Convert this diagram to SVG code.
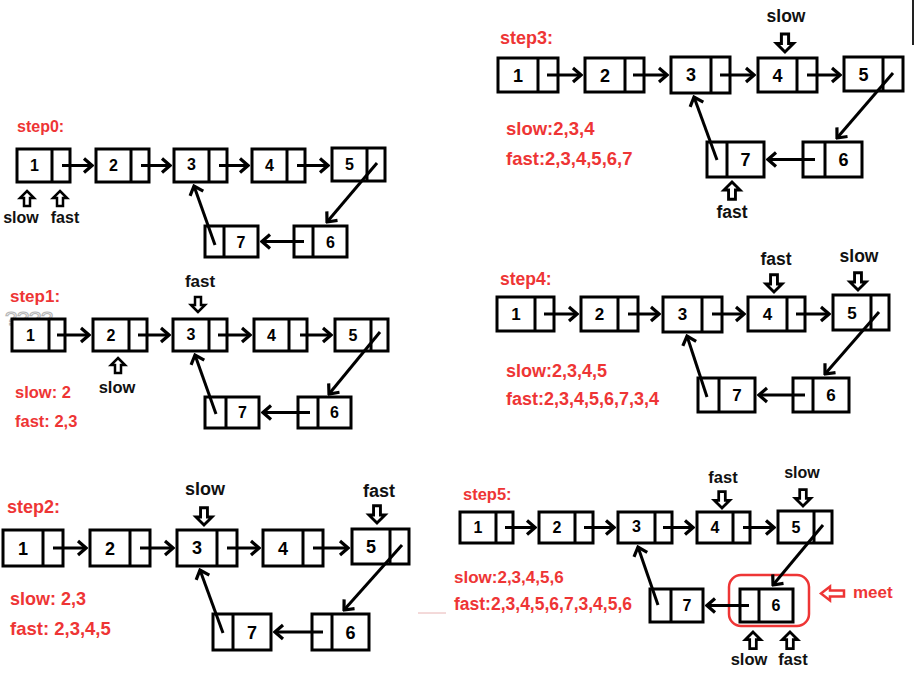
<svg xmlns="http://www.w3.org/2000/svg" xmlns:xlink="http://www.w3.org/1999/xlink" width="916" height="674" viewBox="0 0 916 674">
<style>
.box{fill:#fff;stroke:#000;stroke-width:3}
.dv{stroke:#000;stroke-width:3}
.num{font-family:"Liberation Sans",Arial,sans-serif;font-weight:bold;text-anchor:middle;fill:#000}
.cn{fill:none;stroke:#000;stroke-width:3;marker-end:url(#ah)}
.lb{font-family:"Liberation Sans",Arial,sans-serif;font-weight:bold;fill:#111;text-anchor:middle}
.rd{font-family:"Liberation Sans",Arial,sans-serif;font-weight:bold;fill:#ee3535}
.ptr{fill:#fff;stroke:#000;stroke-width:2.5;stroke-linejoin:miter}
.s0 .num,.s1 .num,.s5 .num{font-size:16px}
.s2 .num,.s3 .num{font-size:18px}
.s4 .num{font-size:17px}
</style>
<defs>
<marker id="ah" viewBox="-11 -9 13 18" refX="0" refY="0" markerWidth="13" markerHeight="18" markerUnits="userSpaceOnUse" orient="auto">
<path d="M-8,-7 L0,0 L-8,7" fill="none" stroke="#000" stroke-width="3.2"/>
</marker>
<path id="pu" d="M0,0 L7,7 L3,7 L3,15 L-3,15 L-3,7 L-7,7 Z"/>
</defs>
<rect width="916" height="674" fill="#fff"/>
<line x1="913" y1="0" x2="913" y2="45" stroke="#222" stroke-width="2"/>
<line x1="418" y1="613" x2="446" y2="613" stroke="#e8b4b4" stroke-width="1"/>
<text x="5" y="325" font-family="Liberation Sans,Arial,sans-serif" font-size="19" fill="none" stroke="#b5b5b5" stroke-width="1" textLength="48" lengthAdjust="spacingAndGlyphs">????</text>

<!-- STEP 0 -->
<g id="step0" class="s0">
<g id="s0-n1"><rect class="box" x="17" y="149" width="53" height="33"/><line class="dv" x1="52" y1="149" x2="52" y2="182"/><text class="num" x="34.5" y="171.3">1</text></g>
<g id="s0-n2"><rect class="box" x="96" y="149" width="53" height="33"/><line class="dv" x1="131" y1="149" x2="131" y2="182"/><text class="num" x="113.5" y="171.3">2</text></g>
<g id="s0-n3"><rect class="box" x="174" y="149" width="53" height="33"/><line class="dv" x1="209" y1="149" x2="209" y2="182"/><text class="num" x="191.5" y="170.3">3</text></g>
<g id="s0-n4"><rect class="box" x="252" y="149" width="53" height="33"/><line class="dv" x1="287" y1="149" x2="287" y2="182"/><text class="num" x="269.5" y="171.3">4</text></g>
<g id="s0-n5"><rect class="box" x="332" y="148" width="53" height="33"/><line class="dv" x1="367" y1="148" x2="367" y2="181"/><text class="num" x="349.5" y="170.3">5</text></g>
<g id="s0-n7"><rect class="box" x="205" y="226" width="53" height="31"/><line class="dv" x1="224" y1="226" x2="224" y2="257"/><text class="num" x="241" y="247.5">7</text></g>
<g id="s0-n6"><rect class="box" x="294" y="226" width="53" height="31"/><line class="dv" x1="313" y1="226" x2="313" y2="257"/><text class="num" x="330.5" y="247.5">6</text></g>
</g>

<!-- STEP 1 -->
<g id="step1" class="s1">
<g id="s1-n1"><rect class="box" x="12" y="319" width="53" height="32"/><line class="dv" x1="49" y1="319" x2="49" y2="351"/><text class="num" x="30.5" y="340.8">1</text></g>
<g id="s1-n2"><rect class="box" x="93" y="319" width="54" height="32"/><line class="dv" x1="129" y1="319" x2="129" y2="351"/><text class="num" x="111" y="340.8">2</text></g>
<g id="s1-n3"><rect class="box" x="173" y="319" width="54" height="32"/><line class="dv" x1="209" y1="319" x2="209" y2="351"/><text class="num" x="191" y="340">3</text></g>
<g id="s1-n4"><rect class="box" x="254" y="319" width="53" height="32"/><line class="dv" x1="289" y1="319" x2="289" y2="351"/><text class="num" x="271.5" y="340.8">4</text></g>
<g id="s1-n5"><rect class="box" x="335" y="319" width="53" height="32"/><line class="dv" x1="371" y1="319" x2="371" y2="351"/><text class="num" x="353" y="340.8">5</text></g>
<g id="s1-n7"><rect class="box" x="205" y="397" width="54" height="31"/><line class="dv" x1="226" y1="397" x2="226" y2="428"/><text class="num" x="242.5" y="418.3">7</text></g>
<g id="s1-n6"><rect class="box" x="298" y="397" width="53" height="31"/><line class="dv" x1="318" y1="397" x2="318" y2="428"/><text class="num" x="334.5" y="418.3">6</text></g>
</g>

<!-- STEP 2 -->
<g id="step2" class="s2">
<g id="s2-n1"><rect class="box" x="3" y="530" width="60" height="36"/><line class="dv" x1="43" y1="530" x2="43" y2="566"/><text class="num" x="23" y="554.5">1</text></g>
<g id="s2-n2"><rect class="box" x="90" y="530" width="60" height="36"/><line class="dv" x1="130" y1="530" x2="130" y2="566"/><text class="num" x="110" y="554.5">2</text></g>
<g id="s2-n3"><rect class="box" x="177" y="530" width="60" height="36"/><line class="dv" x1="217" y1="530" x2="217" y2="566"/><text class="num" x="197" y="553.5">3</text></g>
<g id="s2-n4"><rect class="box" x="263" y="530" width="60" height="36"/><line class="dv" x1="303" y1="530" x2="303" y2="566"/><text class="num" x="283" y="554.5">4</text></g>
<g id="s2-n5"><rect class="box" x="352" y="529" width="57" height="35"/><line class="dv" x1="390" y1="529" x2="390" y2="564"/><text class="num" x="371" y="553">5</text></g>
<g id="s2-n7"><rect class="box" x="213" y="614" width="58" height="36"/><line class="dv" x1="233" y1="614" x2="233" y2="650"/><text class="num" x="252" y="638.5">7</text></g>
<g id="s2-n6"><rect class="box" x="312" y="614" width="57" height="36"/><line class="dv" x1="332" y1="614" x2="332" y2="650"/><text class="num" x="350.5" y="638.5">6</text></g>
</g>

<!-- STEP 3 -->
<g id="step3" class="s3">
<g id="s3-n1"><rect class="box" x="498" y="58" width="60" height="34"/><line class="dv" x1="538" y1="58" x2="538" y2="92"/><text class="num" x="518" y="81.5">1</text></g>
<g id="s3-n2"><rect class="box" x="585" y="58" width="59" height="34"/><line class="dv" x1="625" y1="58" x2="625" y2="92"/><text class="num" x="605" y="81.5">2</text></g>
<g id="s3-n3"><rect class="box" x="671" y="57" width="59" height="36"/><line class="dv" x1="711" y1="57" x2="711" y2="93"/><text class="num" x="691" y="80.5">3</text></g>
<g id="s3-n4"><rect class="box" x="758" y="58" width="59" height="34"/><line class="dv" x1="797" y1="58" x2="797" y2="92"/><text class="num" x="777.5" y="81.5">4</text></g>
<g id="s3-n5"><rect class="box" x="844" y="57" width="59" height="34"/><line class="dv" x1="883" y1="57" x2="883" y2="91"/><text class="num" x="863.5" y="80.5">5</text></g>
<g id="s3-n7"><rect class="box" x="707" y="142" width="57" height="35"/><line class="dv" x1="727" y1="142" x2="727" y2="177"/><text class="num" x="745.5" y="166">7</text></g>
<g id="s3-n6"><rect class="box" x="803" y="142" width="59" height="35"/><line class="dv" x1="825" y1="142" x2="825" y2="177"/><text class="num" x="843.5" y="166">6</text></g>
</g>

<!-- STEP 4 -->
<g id="step4" class="s4">
<g id="s4-n1"><rect class="box" x="497" y="297" width="57" height="34"/><line class="dv" x1="535" y1="297" x2="535" y2="331"/><text class="num" x="516" y="320">1</text></g>
<g id="s4-n2"><rect class="box" x="581" y="297" width="57" height="34"/><line class="dv" x1="618" y1="297" x2="618" y2="331"/><text class="num" x="599.5" y="320">2</text></g>
<g id="s4-n3"><rect class="box" x="663" y="297" width="59" height="35"/><line class="dv" x1="702" y1="297" x2="702" y2="332"/><text class="num" x="682.5" y="319.5">3</text></g>
<g id="s4-n4"><rect class="box" x="748" y="297" width="57" height="34"/><line class="dv" x1="787" y1="297" x2="787" y2="331"/><text class="num" x="767.5" y="320">4</text></g>
<g id="s4-n5"><rect class="box" x="833" y="295" width="56" height="35"/><line class="dv" x1="871" y1="295" x2="871" y2="330"/><text class="num" x="852" y="318.6">5</text></g>
<g id="s4-n7"><rect class="box" x="698" y="378" width="57" height="34"/><line class="dv" x1="719" y1="378" x2="719" y2="412"/><text class="num" x="737" y="401">7</text></g>
<g id="s4-n6"><rect class="box" x="793" y="378" width="56" height="34"/><line class="dv" x1="813" y1="378" x2="813" y2="412"/><text class="num" x="831" y="401">6</text></g>
</g>

<!-- STEP 5 -->
<g id="step5" class="s5">
<g id="s5-n1"><rect class="box" x="460" y="512" width="53" height="31"/><line class="dv" x1="496" y1="512" x2="496" y2="543"/><text class="num" x="478" y="533.3">1</text></g>
<g id="s5-n2"><rect class="box" x="539" y="512" width="54" height="31"/><line class="dv" x1="575" y1="512" x2="575" y2="543"/><text class="num" x="557" y="533.3">2</text></g>
<g id="s5-n3"><rect class="box" x="618" y="512" width="54" height="31"/><line class="dv" x1="655" y1="512" x2="655" y2="543"/><text class="num" x="636.5" y="532.3">3</text></g>
<g id="s5-n4"><rect class="box" x="697" y="512" width="53" height="31"/><line class="dv" x1="733" y1="512" x2="733" y2="543"/><text class="num" x="715" y="533.3">4</text></g>
<g id="s5-n5"><rect class="box" x="778" y="511" width="54" height="32"/><line class="dv" x1="814" y1="511" x2="814" y2="543"/><text class="num" x="796" y="532.8">5</text></g>
<g id="s5-n7"><rect class="box" x="650" y="589" width="53" height="33"/><line class="dv" x1="671" y1="589" x2="671" y2="622"/><text class="num" x="687" y="611.3">7</text></g>
<g id="s5-n6"><rect class="box" x="740" y="589" width="53" height="33"/><line class="dv" x1="759" y1="589" x2="759" y2="622"/><text class="num" x="776" y="611.3">6</text></g>
<rect id="s5-meet-box" x="729" y="575" width="80" height="51" rx="12" fill="none" stroke="#ee3535" stroke-width="2.5"/>
</g>

<!-- CONNECTORS -->
<g id="connectors">
<path class="cn" d="M62,165.5 H92"/>
<path class="cn" d="M141,165.5 H170"/>
<path class="cn" d="M219,165.5 H248"/>
<path class="cn" d="M297,165.5 H328"/>
<path class="cn" d="M377,163 L327,222"/>
<path class="cn" d="M304,241.5 H262"/>
<path class="cn" d="M215,245 L194,186"/>

<path class="cn" d="M57,335 H89"/>
<path class="cn" d="M138,335 H169"/>
<path class="cn" d="M218,335 H250"/>
<path class="cn" d="M300,335 H331"/>
<path class="cn" d="M380,332 L329,394"/>
<path class="cn" d="M310,412.5 H263"/>
<path class="cn" d="M216,414 L195,355"/>

<path class="cn" d="M53,548 H86"/>
<path class="cn" d="M140,548 H173"/>
<path class="cn" d="M227,548 H259"/>
<path class="cn" d="M313,548 H348"/>
<path class="cn" d="M402,545 L344,610"/>
<path class="cn" d="M323,632 H275"/>
<path class="cn" d="M223,633 L200,570"/>

<path class="cn" d="M547,75 H581"/>
<path class="cn" d="M633,75 H667"/>
<path class="cn" d="M720,75 H754"/>
<path class="cn" d="M807,75 H840"/>
<path class="cn" d="M893,73 L837,138"/>
<path class="cn" d="M815,159.5 H768"/>
<path class="cn" d="M717,160 L694,97"/>

<path class="cn" d="M544,314 H577"/>
<path class="cn" d="M628,314 H659"/>
<path class="cn" d="M712,314 H744"/>
<path class="cn" d="M796,314 H829"/>
<path class="cn" d="M879,312 L825,374"/>
<path class="cn" d="M805,395 H759"/>
<path class="cn" d="M707,397 L687,336"/>

<path class="cn" d="M505,527.5 H535"/>
<path class="cn" d="M584,527.5 H614"/>
<path class="cn" d="M663,527.5 H693"/>
<path class="cn" d="M743,527.5 H774"/>
<path class="cn" d="M823,525 L773,585"/>
<path class="cn" d="M749,605.5 H707"/>
<path class="cn" d="M658,605 L638,547"/>
</g>

<!-- POINTER ARROWS -->
<g id="pointers">
<use href="#pu" class="ptr" transform="translate(27,191)"/>
<use href="#pu" class="ptr" transform="translate(60,191)"/>
<use href="#pu" class="ptr" transform="translate(198,312) rotate(180)"/>
<use href="#pu" class="ptr" transform="translate(118,358)"/>
<use href="#pu" class="ptr" transform="translate(204,525) rotate(180) scale(1.15)"/>
<use href="#pu" class="ptr" transform="translate(377,523) rotate(180) scale(1.15)"/>
<use href="#pu" class="ptr" transform="translate(785,52) rotate(180) scale(1.2)"/>
<use href="#pu" class="ptr" transform="translate(732,182) scale(1.15)"/>
<use href="#pu" class="ptr" transform="translate(774,292) rotate(180) scale(1.15)"/>
<use href="#pu" class="ptr" transform="translate(858,290) rotate(180) scale(1.15)"/>
<use href="#pu" class="ptr" transform="translate(722,508) rotate(180) scale(1.1)"/>
<use href="#pu" class="ptr" transform="translate(803,506) rotate(180) scale(1.1)"/>
<use href="#pu" class="ptr" transform="translate(753,632) scale(1.1)"/>
<use href="#pu" class="ptr" transform="translate(790,632) scale(1.1)"/>
<path d="M821,593.5 L830,586.5 L830,590.5 L844,590.5 L844,596.5 L830,596.5 L830,600.5 Z" fill="#fff" stroke="#ee3535" stroke-width="2.5"/>
</g>

<!-- LABELS -->
<g id="labels">
<text class="lb" x="21" y="223" font-size="16">slow</text>
<text class="lb" x="65" y="223" font-size="16">fast</text>
<text class="lb" x="200" y="287" font-size="17">fast</text>
<text class="lb" x="117" y="393" font-size="16.5">slow</text>
<text class="lb" x="205" y="495" font-size="18">slow</text>
<text class="lb" x="379" y="497" font-size="18">fast</text>
<text class="lb" x="786" y="22" font-size="17.5">slow</text>
<text class="lb" x="732" y="218" font-size="17.5">fast</text>
<text class="lb" x="776" y="265" font-size="17.5">fast</text>
<text class="lb" x="859" y="262" font-size="17.5">slow</text>
<text class="lb" x="723" y="483" font-size="16.5">fast</text>
<text class="lb" x="802" y="478" font-size="16">slow</text>
<text class="lb" x="749" y="665" font-size="16.5">slow</text>
<text class="lb" x="793" y="665" font-size="16.5">fast</text>

<text class="rd" x="17" y="132" font-size="16">step0:</text>
<text class="rd" x="10" y="302" font-size="17">step1:</text>
<text class="rd" x="15" y="398" font-size="16.5">slow: 2</text>
<text class="rd" x="15" y="427" font-size="16.5">fast: 2,3</text>
<text class="rd" x="7" y="513" font-size="18">step2:</text>
<text class="rd" x="10" y="605" font-size="18">slow: 2,3</text>
<text class="rd" x="10" y="635" font-size="18.5">fast: 2,3,4,5</text>
<text class="rd" x="500" y="44" font-size="18">step3:</text>
<text class="rd" x="506" y="135" font-size="18.5">slow:2,3,4</text>
<text class="rd" x="506" y="165" font-size="18.5">fast:2,3,4,5,6,7</text>
<text class="rd" x="500" y="285" font-size="17.5">step4:</text>
<text class="rd" x="506" y="377" font-size="18">slow:2,3,4,5</text>
<text class="rd" x="506" y="405" font-size="18">fast:2,3,4,5,6,7,3,4</text>
<text class="rd" x="463" y="500" font-size="16.5">step5:</text>
<text class="rd" x="454" y="583" font-size="17">slow:2,3,4,5,6</text>
<text class="rd" x="454" y="610" font-size="17.5">fast:2,3,4,5,6,7,3,4,5,6</text>
<text class="rd" x="853" y="598" font-size="17">meet</text>
</g>
</svg>
